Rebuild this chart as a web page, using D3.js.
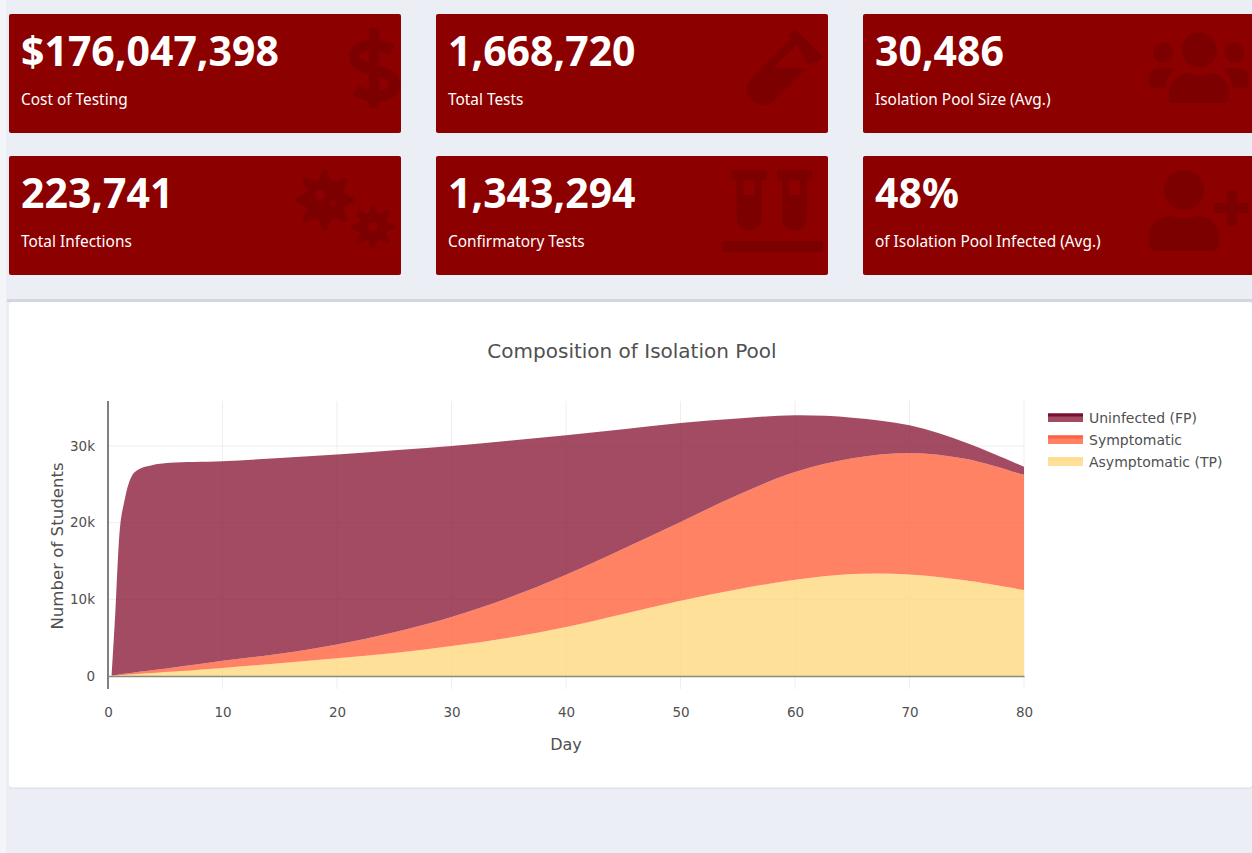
<!DOCTYPE html>
<html>
<head>
<meta charset="utf-8">
<title>Composition of Isolation Pool</title>
<script src="https://d3js.org/d3.v7.min.js"></script>
<style>
  html, body { margin: 0; padding: 0; background: #ebeef4; overflow: hidden; }
  svg { display: block; }
  .num { font-family: "Noto Sans", sans-serif; font-weight: 700; fill: #fff; }
  .lbl { font-family: "Noto Sans", sans-serif; fill: #fff; }
  .plot text { font-family: "DejaVu Sans", sans-serif; fill: #505050; }
</style>
</head>
<body>
<svg id="page" width="1252" height="853"></svg>
<script>
// KPI card contents
const cardValues = ["$176,047,398", "1,668,720", "30,486", "223,741", "1,343,294", "48%"];
const cardLabels = ["Cost of Testing", "Total Tests", "Isolation Pool Size (Avg.)",
                    "Total Infections", "Confirmatory Tests", "of Isolation Pool Infected (Avg.)"];

// Isolation pool composition by day, in students
const days = [0.32, 0.65, 0.83, 1.09, 1.4, 1.83, 2.27, 2.88, 3.84, 5.41,
              10, 15, 20, 25, 30, 35, 40, 45, 50, 55, 60, 65, 70, 75, 80];
const asymptomatic = [30, 60, 80, 110, 140, 180, 230, 290, 380, 540,
              1050, 1650, 2300, 3000, 3900, 5000, 6400, 8100, 9800, 11300, 12550, 13300, 13250, 12450, 11200];
const symptomatic = [30, 60, 80, 110, 140, 180, 230, 290, 380, 510,
              950, 1250, 1800, 2700, 3800, 5200, 6800, 8500, 10300, 12300, 14050, 15100, 15850, 15850, 15000];
const uninfected = [40, 8480, 14040, 19780, 22320, 24840, 26040, 26520, 26740, 26750,
              26000, 25550, 24800, 23750, 22300, 20500, 18200, 15600, 12900, 10000, 7400, 5300, 3600, 2100, 1100];

const seriesNames = ["Asymptomatic (TP)", "Symptomatic", "Uninfected (FP)"];
const seriesColors = ["#fed87e", "#ff633d", "#8c1e3b"];
const legendLines = ["#fedc8c", "#ff6347", "#7a1030"];
const xTicks = [0, 10, 20, 30, 40, 50, 60, 70, 80];
const yTicks = [0, 10000, 20000, 30000];

const svg = d3.select("#page");
const cardFill = "#8c0000";
const iconFill = "#7d0000";

// page background and side strip
svg.append("rect").attr("width", 1252).attr("height", 853).attr("fill", "#ebeef4");
svg.append("rect").attr("width", 6).attr("height", 853).attr("fill", "#f3f5f9");

// KPI cards: three columns, two rows
const colX = [9, 436, 863];
const rowY = [14, 156];
cardValues.forEach((v, i) => {
  const x = colX[i % 3], y = rowY[Math.floor(i / 3)];
  const g = svg.append("g").attr("transform", `translate(${x},${y})`);
  g.append("rect").attr("width", 392).attr("height", 119).attr("rx", 2).attr("fill", cardFill);
  g.append("text").attr("class", "num").attr("x", 12).attr("y", 52)
    .attr("font-size", 41).text(v);
  g.append("text").attr("class", "lbl").attr("x", 12).attr("y", 90.5)
    .attr("font-size", 15.4).text(cardLabels[i]);
});

// card icons
const icons = svg.append("g").attr("fill", iconFill);

// dollar sign
icons.append("path").attr("fill", "none").attr("stroke", iconFill).attr("stroke-width", 11)
  .attr("d", "M392 50C382 45 368 44 362 47C352 51 352 62 362 66L386 74C398 78 397 91 386 95C376 98 364 96 356 90");
icons.append("rect").attr("x", 369).attr("y", 28).attr("width", 10).attr("height", 80).attr("rx", 3);

// single test tube
const tube = icons.append("g").attr("transform", "translate(763,89) rotate(45)");
tube.append("path").attr("d", "M-16,-58V0A16,16 0 0 0 16,0V-58Z");
tube.append("rect").attr("x", -20).attr("y", -65).attr("width", 40).attr("height", 10).attr("rx", 2);
icons.append("path").attr("fill", cardFill).attr("d", "M773,68L797,45L810,68Z");

// pair of test tubes on a rack
[731.7, 777].forEach(x0 => {
  icons.append("rect").attr("x", x0).attr("y", 170).attr("width", 35).attr("height", 10).attr("rx", 2);
  icons.append("path").attr("d", `M${x0 + 5},178V218A12.5,12.5 0 0 0 ${x0 + 30},218V178Z`);
  icons.append("rect").attr("x", x0 + 12).attr("y", 180).attr("width", 11).attr("height", 15).attr("fill", cardFill);
});
icons.append("rect").attr("x", 722).attr("y", 241).attr("width", 101).attr("height", 11).attr("rx", 3);

// group of people
[[1199.3, 50, 17.7], [1163.3, 52.7, 10], [1234.3, 52.7, 10]].forEach(c =>
  icons.append("circle").attr("cx", c[0]).attr("cy", c[1]).attr("r", c[2]));
icons.append("path").attr("d", "M1169,98V92C1169,80 1180,73 1190,73C1196,76 1203,76 1209,73C1219,73 1229,80 1229,92V98Q1229,103 1224,103H1174Q1169,103 1169,98Z");
icons.append("path").attr("d", "M1175,68H1160C1153,68 1149,73 1149,79V83Q1149,88 1154,88H1165C1166,80 1170,73 1175,68Z");
icons.append("path").attr("d", "M1223,68H1238C1245,68 1249,73 1249,79V83Q1249,88 1244,88H1233C1232,80 1228,73 1223,68Z");

// person with a plus sign
icons.append("circle").attr("cx", 1184).attr("cy", 190).attr("r", 20);
icons.append("path").attr("d", "M1149,244V236C1149,224 1159,216 1171,216C1179,219 1189,219 1197,216C1209,216 1219,224 1219,236V244Q1219,251 1212,251H1156Q1149,251 1149,244Z");
icons.append("rect").attr("x", 1214).attr("y", 203).attr("width", 35).attr("height", 10).attr("rx", 2);
icons.append("rect").attr("x", 1227).attr("y", 190).attr("width", 10).attr("height", 36).attr("rx", 2);

// viruses
function gear(cx, cy, rBody, rTip, holes) {
  const g = icons.append("g").attr("transform", `translate(${cx},${cy})`);
  g.append("circle").attr("r", rBody);
  d3.range(8).forEach(k => {
    g.append("path")
      .attr("d", `M${-rBody * 0.3},${-rBody + 2}L${-rBody * 0.1},${-rTip}H${rBody * 0.1}L${rBody * 0.3},${-rBody + 2}Z`)
      .attr("transform", `rotate(${k * 45})`);
  });
  holes.forEach(h => g.append("circle").attr("cx", h[0]).attr("cy", h[1]).attr("r", h[2]).attr("fill", cardFill));
}
gear(325, 200, 21, 30, [[-5, -5, 5], [8, 3, 2.5]]);
gear(373, 227, 15, 22, [[0, 0, 5]]);

// chart panel
svg.append("rect").attr("x", 9).attr("y", 302).attr("width", 1243).attr("height", 487).attr("fill", "#dfe3ea").attr("rx", 3);
svg.append("rect").attr("x", 9).attr("y", 302).attr("width", 1243).attr("height", 485.5).attr("fill", "#fff").attr("rx", 3);
svg.append("rect").attr("x", 7).attr("y", 299).attr("width", 1245).attr("height", 3).attr("fill", "#d2d6de");

const plot = svg.append("g").attr("class", "plot");

const x = d3.scaleLinear().domain([0, 80]).range([108, 1024]);
const y = d3.scaleLinear().domain([0, 30000]).range([676, 446]);
const plotTop = 401, plotBottom = 689;

// gridlines sit below the translucent fills
plot.append("g").selectAll("line").data(xTicks.slice(1)).join("line")
  .attr("x1", d => x(d)).attr("x2", d => x(d))
  .attr("y1", plotTop).attr("y2", plotBottom)
  .attr("stroke", "#eeeeee");
plot.append("g").selectAll("line").data(yTicks.slice(1)).join("line")
  .attr("x1", x(0)).attr("x2", x(80))
  .attr("y1", d => y(d)).attr("y2", d => y(d))
  .attr("stroke", "#eeeeee");

// stacked areas
const rows = days.map((d, i) => ({
  day: d,
  [seriesNames[0]]: asymptomatic[i],
  [seriesNames[1]]: symptomatic[i],
  [seriesNames[2]]: uninfected[i]
}));
const stacked = d3.stack().keys(seriesNames)(rows);
const area = d3.area()
  .x(d => x(d.data.day))
  .y0(d => y(d[0]))
  .y1(d => y(d[1]))
  .curve(d3.curveCatmullRom.alpha(0.5));
plot.append("g").selectAll("path").data(stacked).join("path")
  .attr("d", area)
  .attr("fill", (d, i) => seriesColors[i])
  .attr("fill-opacity", 0.8);

// axes
const xAxis = plot.append("g").attr("transform", `translate(0,${y(0)})`)
  .call(d3.axisBottom(x).tickValues(xTicks).tickSize(0).tickPadding(31));
xAxis.select(".domain").attr("stroke", "#8a8a7a").attr("stroke-width", 1.5);
xAxis.selectAll("text").attr("font-size", 13.5);

const yAxis = plot.append("g").attr("transform", `translate(${x(0)},0)`)
  .call(d3.axisLeft(y).tickValues(yTicks).tickSize(0).tickPadding(13)
    .tickFormat(d => d === 0 ? "0" : `${d / 1000}k`));
yAxis.select(".domain").remove();
yAxis.selectAll("text").attr("font-size", 13.5);
plot.append("line").attr("x1", x(0)).attr("x2", x(0))
  .attr("y1", plotTop).attr("y2", plotBottom)
  .attr("stroke", "#808080").attr("stroke-width", 2);

// titles
plot.append("text").attr("x", 632).attr("y", 358).attr("text-anchor", "middle")
  .attr("font-size", 20).text("Composition of Isolation Pool");
plot.append("text").attr("x", 566).attr("y", 750).attr("text-anchor", "middle")
  .attr("font-size", 16).text("Day");
plot.append("text").attr("transform", "translate(63,546) rotate(-90)").attr("text-anchor", "middle")
  .attr("font-size", 16.6).text("Number of Students");

// legend, top series first
const legendOrder = [2, 1, 0];
const legend = plot.append("g");
legendOrder.forEach((s, i) => {
  const ly = 413 + i * 22;
  legend.append("rect").attr("x", 1048).attr("y", ly).attr("width", 35).attr("height", 9)
    .attr("fill", seriesColors[s]).attr("fill-opacity", 0.8);
  legend.append("rect").attr("x", 1048).attr("y", ly + 1).attr("width", 35).attr("height", 2.5)
    .attr("fill", legendLines[s]);
  legend.append("text").attr("x", 1089).attr("y", ly + 10).attr("font-size", 14).text(seriesNames[s]);
});
</script>
</body>
</html>
